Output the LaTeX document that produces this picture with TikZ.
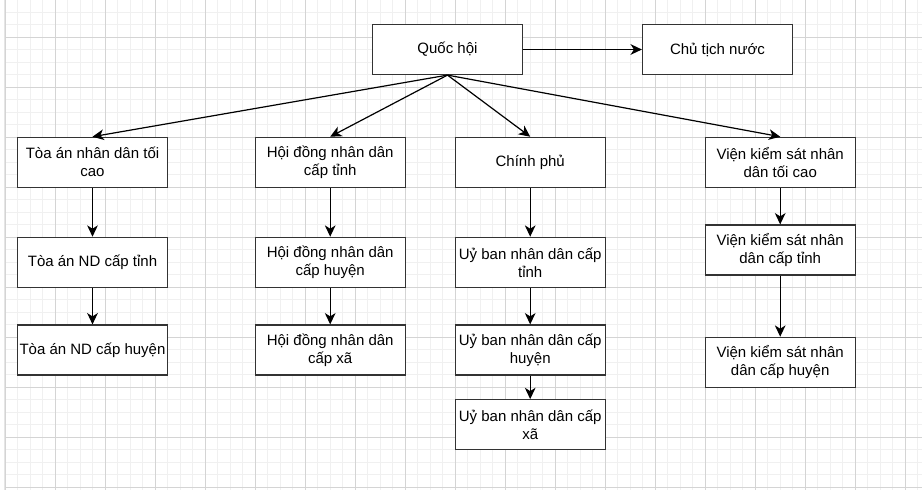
\documentclass[tikz,border=0pt]{standalone}
\usepackage{fontspec}
\setmainfont{Liberation Sans}
\usetikzlibrary{arrows.meta}

\tikzset{
  box/.style={draw=black!80, line width=0.9pt, fill=white,
    minimum width=112.5pt, minimum height=37.5pt, inner sep=1pt,
    align=center, font=\fontsize{11.25}{13.5}\selectfont},
  link/.style={line width=0.9pt, -{Stealth[length=8.5pt,width=8pt,inset=2.5pt]}},
  minorgrid/.style={black!6, line width=0.75pt},
  majorgrid/.style={black!17, line width=0.75pt}
}

\begin{document}
\begin{tikzpicture}[x=0.75pt, y=-0.75pt]
  \useasboundingbox (0,0) rectangle (922,490);
  \fill[white] (0,0) rectangle (922,490);
  % background grid
  \foreach \x in {5,17.5,...,917.5}
    \draw[minorgrid] (\x,0) -- (\x,490);
  \foreach \y in {-0.2,12.3,...,487.3}
    \draw[minorgrid] (5,\y) -- (922,\y);
  \foreach \x in {5,55,...,905}
    \draw[majorgrid] (\x,0) -- (\x,490);
  \foreach \y in {37.3,87.3,...,487.3}
    \draw[majorgrid] (5,\y) -- (922,\y);
  \draw[black!10, line width=0.75pt] (4,0) -- (4,490);

  % top
  \node[box] (qh) at (447.5,49.5) {Quốc hội};
  \node[box] (ct) at (717.5,49.5) {Chủ tịch nước};

  % courts
  \node[box] (ta1) at (92.5,162.3) {Tòa án nhân dân tối\\cao};
  \node[box] (ta2) at (92.5,262.3) {Tòa án ND cấp tỉnh};
  \node[box] (ta3) at (92.5,350) {Tòa án ND cấp huyện};

  % councils
  \node[box] (hd1) at (330.2,162.3) {Hội đồng nhân dân\\cấp tỉnh};
  \node[box] (hd2) at (330.2,262.3) {Hội đồng nhân dân\\cấp huyện};
  \node[box] (hd3) at (330.2,350) {Hội đồng nhân dân\\cấp xã};

  % government
  \node[box] (cp1) at (530.2,162.3) {Chính phủ};
  \node[box] (cp2) at (530.2,262.3) {Uỷ ban nhân dân cấp\\tỉnh};
  \node[box] (cp3) at (530.2,350) {Uỷ ban nhân dân cấp\\huyện};
  \node[box] (cp4) at (530.2,424.7) {Uỷ ban nhân dân cấp\\xã};

  % procuracy
  \node[box] (vk1) at (780.2,162.3) {Viện kiểm sát nhân\\dân tối cao};
  \node[box] (vk2) at (780.2,250) {Viện kiểm sát nhân\\dân cấp tỉnh};
  \node[box] (vk3) at (780.2,362.3) {Viện kiểm sát nhân\\dân cấp huyện};

  \draw[link] (qh) -- (ct);
  \draw[link] (qh.south) -- (ta1.north);
  \draw[link] (qh.south) -- (hd1.north);
  \draw[link] (qh.south) -- (cp1.north);
  \draw[link] (qh.south) -- (vk1.north);

  \draw[link] (ta1) -- (ta2);
  \draw[link] (ta2) -- (ta3);
  \draw[link] (hd1) -- (hd2);
  \draw[link] (hd2) -- (hd3);
  \draw[link] (cp1) -- (cp2);
  \draw[link] (cp2) -- (cp3);
  \draw[link] (cp3) -- (cp4);
  \draw[link] (vk1) -- (vk2);
  \draw[link] (vk2) -- (vk3);
\end{tikzpicture}
\end{document}
